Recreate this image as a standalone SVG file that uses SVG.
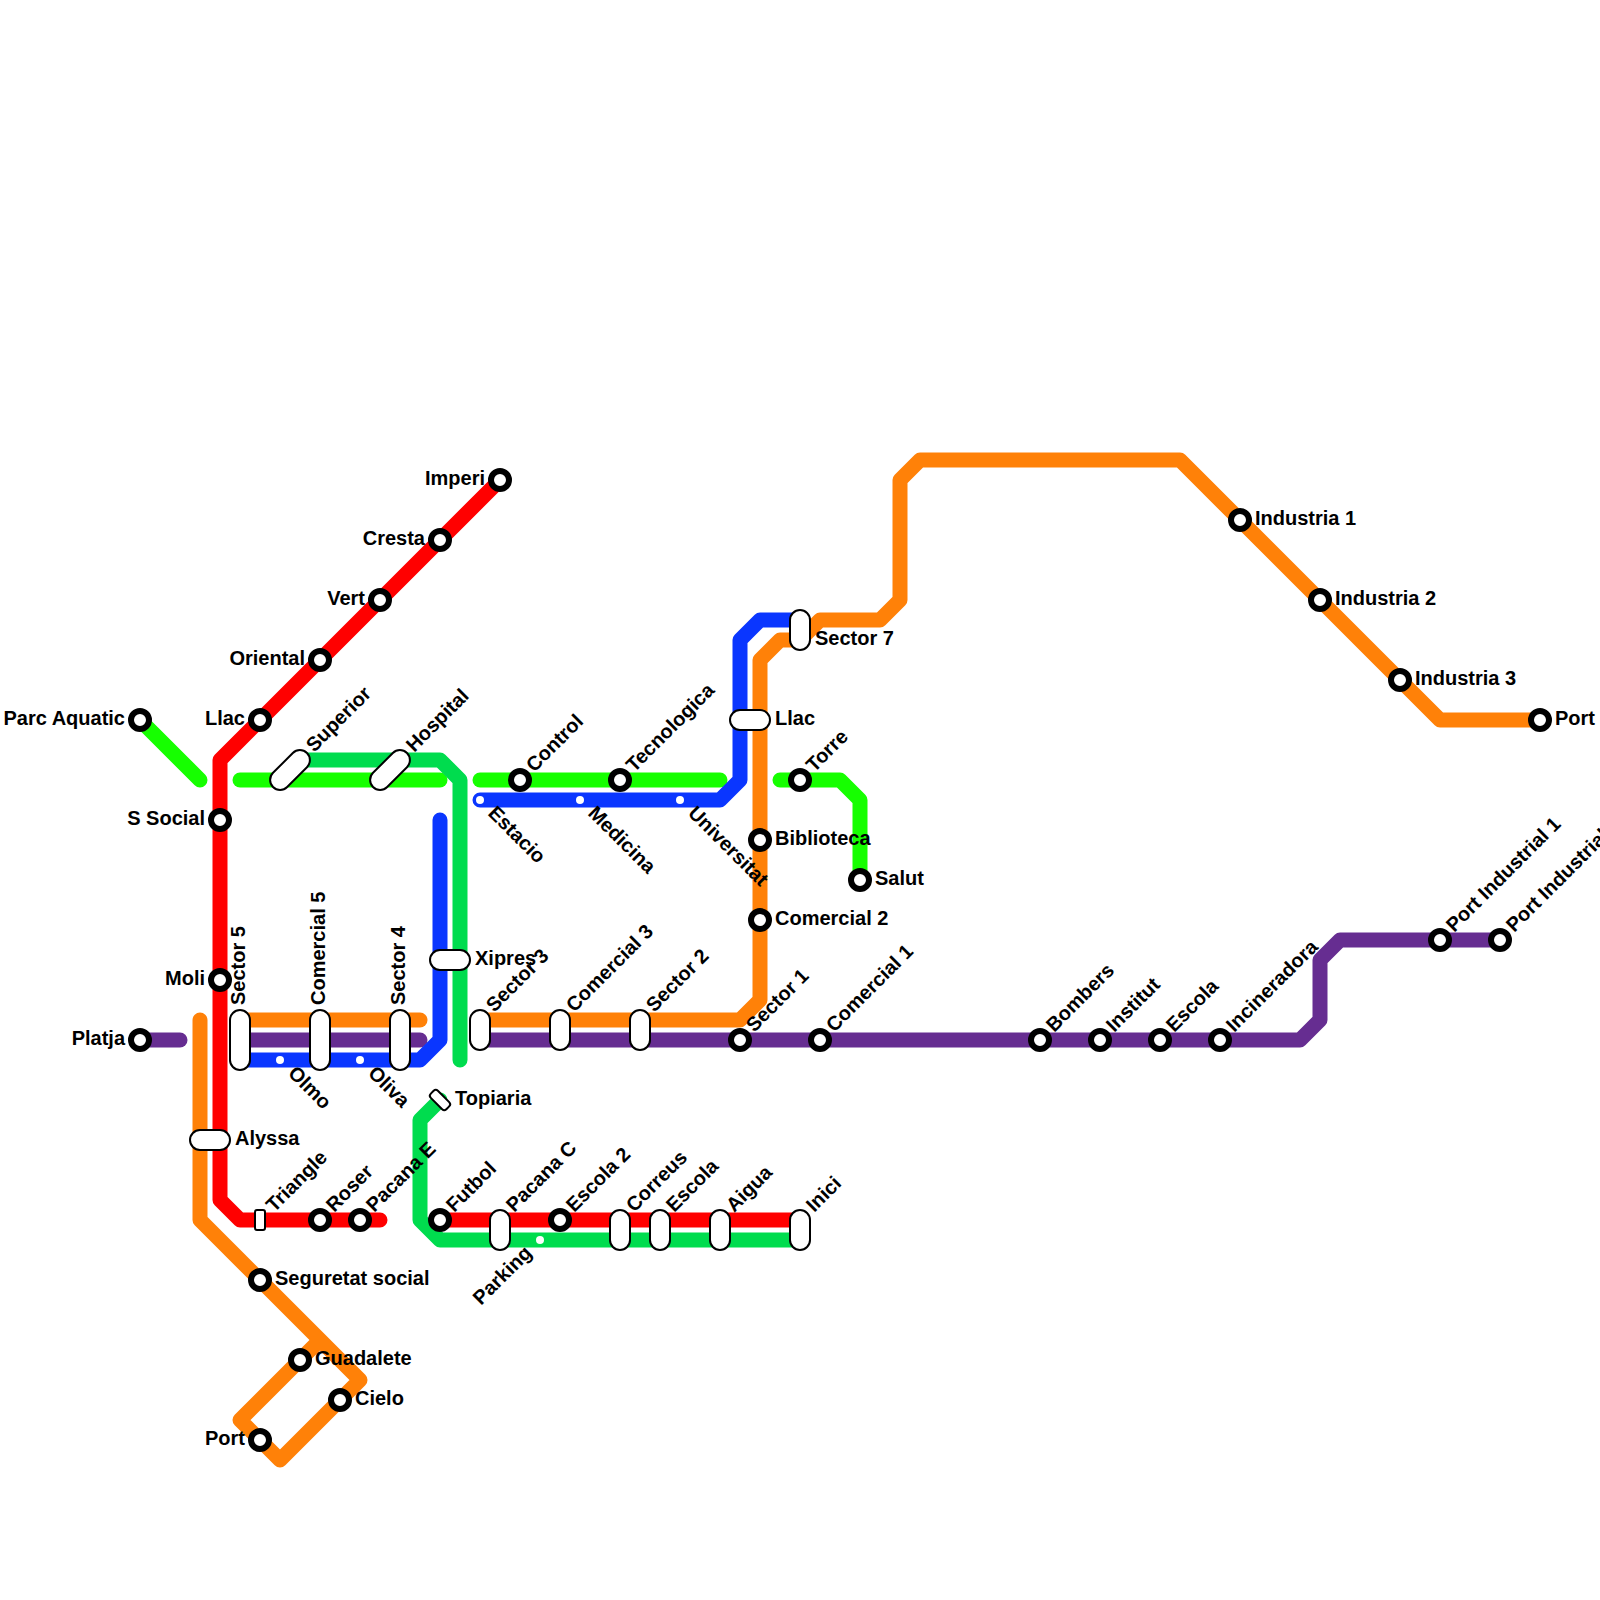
<svg xmlns="http://www.w3.org/2000/svg" width="1600" height="1600" viewBox="0 0 1600 1600">
<style>
.l{fill:none;stroke-width:15;stroke-linecap:round;stroke-linejoin:round}
.red{stroke:#ff0000}.lime{stroke:#16ff00}.dg{stroke:#00dc4e}.blue{stroke:#0a36ff}.or{stroke:#ff8108}.pu{stroke:#662d91}
.s{fill:#fff;stroke:#000;stroke-width:6}
.c{fill:#fff;stroke:#000;stroke-width:2}
.d{fill:#fff}
text{font-family:"Liberation Sans",Arial,sans-serif;font-size:20px;font-weight:bold;fill:#000}
.e{text-anchor:end}
</style>
<g id="connectors">
<path class="l lime" d="M140 720L200 780"/>
<path class="l lime" d="M240 780H440"/>
<path class="l lime" d="M480 780H720"/>
<path class="l lime" d="M780 780H840L860 800V880"/>
<path class="l or" d="M200 1020V1220L360 1380L280 1460L240 1420L320 1340"/>
<path class="l or" d="M240 1020H420"/>
<path class="l or" d="M480 1020H740L760 1000V660L780 640H800L820 620H880L900 600V480L920 460H1180L1440 720H1540"/>
<path class="l pu" d="M140 1040H180"/>
<path class="l pu" d="M240 1040H420"/>
<path class="l pu" d="M480 1040H1300L1320 1020V960L1340 940H1500"/>
<path class="l blue" d="M240 1060H420L440 1040V820"/>
<path class="l blue" d="M480 800H720L740 780V640L760 620H800"/>
<path class="l red" d="M500 480L220 760V1200L240 1220H380"/>
<path class="l red" d="M440 1220H800"/>
<path class="l dg" d="M300 760H440L460 780V1060"/>
<path class="l dg" d="M440 1100L420 1120V1220L440 1240H800"/>
</g>
<g id="parc-aquatic"><circle class="s" cx="140" cy="720" r="9"/><text class="e" x="125" y="725">Parc Aquatic</text></g>
<g id="llac"><circle class="s" cx="260" cy="720" r="9"/><text class="e" x="245" y="725">Llac</text></g>
<g id="oriental"><circle class="s" cx="320" cy="660" r="9"/><text class="e" x="305" y="665">Oriental</text></g>
<g id="vert"><circle class="s" cx="380" cy="600" r="9"/><text class="e" x="365" y="605">Vert</text></g>
<g id="cresta"><circle class="s" cx="440" cy="540" r="9"/><text class="e" x="425" y="545">Cresta</text></g>
<g id="imperi"><circle class="s" cx="500" cy="480" r="9"/><text class="e" x="485" y="485">Imperi</text></g>
<g id="s-social"><circle class="s" cx="220" cy="820" r="9"/><text class="e" x="205" y="825">S Social</text></g>
<g id="moli"><circle class="s" cx="220" cy="980" r="9"/><text class="e" x="205" y="985">Moli</text></g>
<g id="platja"><circle class="s" cx="140" cy="1040" r="9"/><text class="e" x="125" y="1045">Platja</text></g>
<g id="superior"><rect class="c" x="266" y="760" width="48" height="20" rx="10" transform="rotate(-45 290 770)"/><text transform="translate(300 760) rotate(-45) translate(15 5)">Superior</text></g>
<g id="hospital"><rect class="c" x="366" y="760" width="48" height="20" rx="10" transform="rotate(-45 390 770)"/><text transform="translate(400 760) rotate(-45) translate(15 5)">Hospital</text></g>
<g id="sector-5"><rect class="c" x="230" y="1010" width="20" height="60" rx="10"/><text transform="translate(240 1020) rotate(-90) translate(15 5)">Sector 5</text></g>
<g id="comercial-5"><rect class="c" x="310" y="1010" width="20" height="60" rx="10"/><text transform="translate(320 1020) rotate(-90) translate(15 5)">Comercial 5</text></g>
<g id="sector-4"><rect class="c" x="390" y="1010" width="20" height="60" rx="10"/><text transform="translate(400 1020) rotate(-90) translate(15 5)">Sector 4</text></g>
<g id="olmo"><circle class="d" cx="280" cy="1060" r="4"/><text transform="translate(280 1060) rotate(45) translate(15 5)">Olmo</text></g>
<g id="oliva"><circle class="d" cx="360" cy="1060" r="4"/><text transform="translate(360 1060) rotate(45) translate(15 5)">Oliva</text></g>
<g id="xipres"><rect class="c" x="430" y="950" width="40" height="20" rx="10"/><text x="475" y="965">Xipres</text></g>
<g id="sector-3"><rect class="c" x="470" y="1010" width="20" height="40" rx="10"/><text transform="translate(480 1020) rotate(-45) translate(15 5)">Sector 3</text></g>
<g id="comercial-3"><rect class="c" x="550" y="1010" width="20" height="40" rx="10"/><text transform="translate(560 1020) rotate(-45) translate(15 5)">Comercial 3</text></g>
<g id="sector-2"><rect class="c" x="630" y="1010" width="20" height="40" rx="10"/><text transform="translate(640 1020) rotate(-45) translate(15 5)">Sector 2</text></g>
<g id="sector-1"><circle class="s" cx="740" cy="1040" r="9"/><text transform="translate(740 1040) rotate(-45) translate(15 5)">Sector 1</text></g>
<g id="comercial-1"><circle class="s" cx="820" cy="1040" r="9"/><text transform="translate(820 1040) rotate(-45) translate(15 5)">Comercial 1</text></g>
<g id="bombers"><circle class="s" cx="1040" cy="1040" r="9"/><text transform="translate(1040 1040) rotate(-45) translate(15 5)">Bombers</text></g>
<g id="institut"><circle class="s" cx="1100" cy="1040" r="9"/><text transform="translate(1100 1040) rotate(-45) translate(15 5)">Institut</text></g>
<g id="escola"><circle class="s" cx="1160" cy="1040" r="9"/><text transform="translate(1160 1040) rotate(-45) translate(15 5)">Escola</text></g>
<g id="incineradora"><circle class="s" cx="1220" cy="1040" r="9"/><text transform="translate(1220 1040) rotate(-45) translate(15 5)">Incineradora</text></g>
<g id="port-industrial-1"><circle class="s" cx="1440" cy="940" r="9"/><text transform="translate(1440 940) rotate(-45) translate(15 5)">Port Industrial 1</text></g>
<g id="port-industrial-2"><circle class="s" cx="1500" cy="940" r="9"/><text transform="translate(1500 940) rotate(-45) translate(15 5)">Port Industrial 2</text></g>
<g id="control"><circle class="s" cx="520" cy="780" r="9"/><text transform="translate(520 780) rotate(-45) translate(15 5)">Control</text></g>
<g id="tecnologica"><circle class="s" cx="620" cy="780" r="9"/><text transform="translate(620 780) rotate(-45) translate(15 5)">Tecnologica</text></g>
<g id="torre"><circle class="s" cx="800" cy="780" r="9"/><text transform="translate(800 780) rotate(-45) translate(15 5)">Torre</text></g>
<g id="estacio"><circle class="d" cx="480" cy="800" r="4"/><text transform="translate(480 800) rotate(45) translate(15 5)">Estacio</text></g>
<g id="medicina"><circle class="d" cx="580" cy="800" r="4"/><text transform="translate(580 800) rotate(45) translate(15 5)">Medicina</text></g>
<g id="universitat"><circle class="d" cx="680" cy="800" r="4"/><text transform="translate(680 800) rotate(45) translate(15 5)">Universitat</text></g>
<g id="llac-2"><rect class="c" x="730" y="710" width="40" height="20" rx="10"/><text x="775" y="725">Llac</text></g>
<g id="sector-7"><rect class="c" x="790" y="610" width="20" height="40" rx="10"/><text x="815" y="645">Sector 7</text></g>
<g id="biblioteca"><circle class="s" cx="760" cy="840" r="9"/><text x="775" y="845">Biblioteca</text></g>
<g id="comercial-2"><circle class="s" cx="760" cy="920" r="9"/><text x="775" y="925">Comercial 2</text></g>
<g id="salut"><circle class="s" cx="860" cy="880" r="9"/><text x="875" y="885">Salut</text></g>
<g id="industria-1"><circle class="s" cx="1240" cy="520" r="9"/><text x="1255" y="525">Industria 1</text></g>
<g id="industria-2"><circle class="s" cx="1320" cy="600" r="9"/><text x="1335" y="605">Industria 2</text></g>
<g id="industria-3"><circle class="s" cx="1400" cy="680" r="9"/><text x="1415" y="685">Industria 3</text></g>
<g id="port-east"><circle class="s" cx="1540" cy="720" r="9"/><text x="1555" y="725">Port</text></g>
<g id="alyssa"><rect class="c" x="190" y="1130" width="40" height="20" rx="10"/><text x="235" y="1145">Alyssa</text></g>
<g id="topiaria"><rect class="c" x="429" y="1095" width="22" height="10" rx="3" transform="rotate(45 440 1100)"/><text x="455" y="1105">Topiaria</text></g>
<g id="triangle"><rect class="c" x="255" y="1210" width="10" height="20" rx="2"/><text transform="translate(260 1220) rotate(-45) translate(15 5)">Triangle</text></g>
<g id="roser"><circle class="s" cx="320" cy="1220" r="9"/><text transform="translate(320 1220) rotate(-45) translate(15 5)">Roser</text></g>
<g id="pacana-e"><circle class="s" cx="360" cy="1220" r="9"/><text transform="translate(360 1220) rotate(-45) translate(15 5)">Pacana E</text></g>
<g id="futbol"><circle class="s" cx="440" cy="1220" r="9"/><text transform="translate(440 1220) rotate(-45) translate(15 5)">Futbol</text></g>
<g id="pacana-c"><rect class="c" x="490" y="1210" width="20" height="40" rx="10"/><text transform="translate(500 1220) rotate(-45) translate(15 5)">Pacana C</text></g>
<g id="parking"><circle class="d" cx="540" cy="1240" r="4"/><text class="e" transform="translate(540 1240) rotate(-45) translate(-15 5)">Parking</text></g>
<g id="escola-2"><circle class="s" cx="560" cy="1220" r="9"/><text transform="translate(560 1220) rotate(-45) translate(15 5)">Escola 2</text></g>
<g id="correus"><rect class="c" x="610" y="1210" width="20" height="40" rx="10"/><text transform="translate(620 1220) rotate(-45) translate(15 5)">Correus</text></g>
<g id="escola-3"><rect class="c" x="650" y="1210" width="20" height="40" rx="10"/><text transform="translate(660 1220) rotate(-45) translate(15 5)">Escola</text></g>
<g id="aigua"><rect class="c" x="710" y="1210" width="20" height="40" rx="10"/><text transform="translate(720 1220) rotate(-45) translate(15 5)">Aigua</text></g>
<g id="inici"><rect class="c" x="790" y="1210" width="20" height="40" rx="10"/><text transform="translate(800 1220) rotate(-45) translate(15 5)">Inici</text></g>
<g id="seguretat-social"><circle class="s" cx="260" cy="1280" r="9"/><text x="275" y="1285">Seguretat social</text></g>
<g id="guadalete"><circle class="s" cx="300" cy="1360" r="9"/><text x="315" y="1365">Guadalete</text></g>
<g id="cielo"><circle class="s" cx="340" cy="1400" r="9"/><text x="355" y="1405">Cielo</text></g>
<g id="port-south"><circle class="s" cx="260" cy="1440" r="9"/><text class="e" x="245" y="1445">Port</text></g>
</svg>
